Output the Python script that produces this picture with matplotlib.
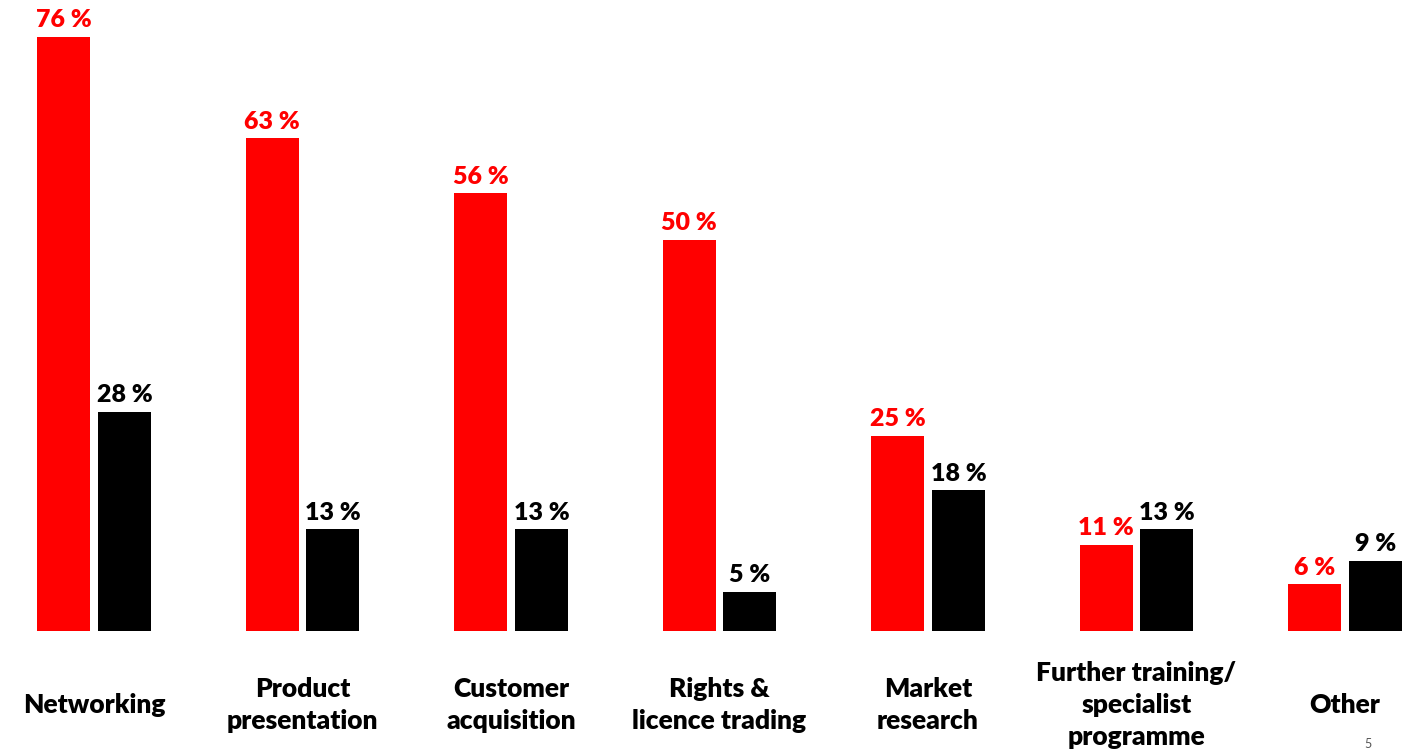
import matplotlib.pyplot as plt
import numpy as np

categories = [
    "Networking",
    "Product\npresentation",
    "Customer\nacquisition",
    "Rights &\nlicence trading",
    "Market\nresearch",
    "Further training/\nspecialist\nprogramme",
    "Other",
]
red_values = [76, 63, 56, 50, 25, 11, 6]
black_values = [28, 13, 13, 5, 18, 13, 9]

plt.rcParams["font.family"] = ["Lato", "DejaVu Sans"]

fig = plt.figure(figsize=(14.05, 7.51), dpi=100)
# bars sit on a baseline 120 px above the bottom edge
ax = fig.add_axes([0, 120 / 751, 1, 631 / 751])

x = np.arange(len(categories))
width = 0.254
offset = 0.146

ax.bar(x - offset, red_values, width, color="#ff0000")
ax.bar(x + offset, black_values, width, color="#000000")

for xi, rv, bv in zip(x, red_values, black_values):
    ax.annotate(f"{rv} %", (xi - offset, rv), xytext=(0, 4),
                textcoords="offset points", ha="center", va="bottom",
                color="#ff0000", fontsize=18, fontweight="heavy")
    ax.annotate(f"{bv} %", (xi + offset, bv), xytext=(0, 4),
                textcoords="offset points", ha="center", va="bottom",
                color="#000000", fontsize=18, fontweight="heavy")

for xi, cat in zip(x, categories):
    ax.annotate(cat, (xi, 0), xytext=(0, -74), textcoords="offset pixels",
                ha="center", va="center", fontsize=19, fontweight="heavy",
                linespacing=1.4, annotation_clip=False)

ax.set_xlim(-94 / 208.5, 6 + 60 / 208.5)
ax.set_ylim(0, 631 / 7.82)
ax.axis("off")

fig.text(1368 / 1405, 1 / 751, "5", ha="center", va="bottom",
         fontsize=9, color="#555555")

fig.savefig("out.png", dpi=100)
plt.close(fig)
